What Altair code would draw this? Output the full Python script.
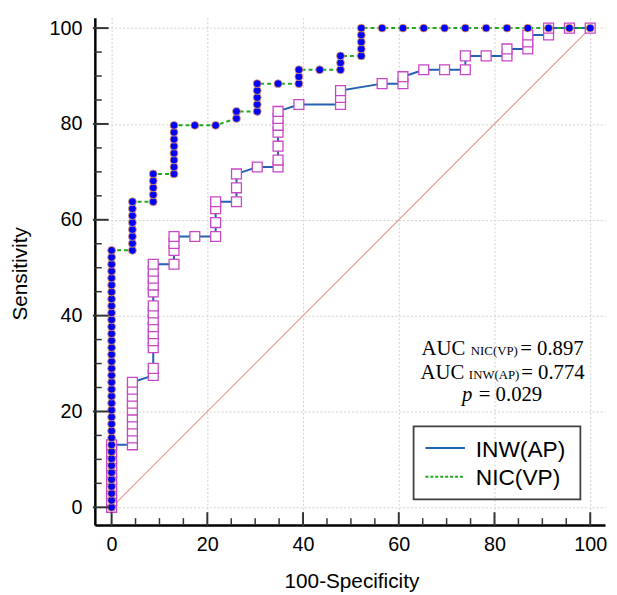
import altair as alt
import pandas as pd

# ---- values (100-Specificity %, Sensitivity %) ----
inw_fpr_cols = [0.0, 4.35, 8.7, 13.04, 17.39, 21.74, 26.09, 30.43, 34.78, 39.13, 47.83,
                56.52, 60.87, 65.22, 69.57, 73.91, 78.26, 82.61, 86.96, 91.3, 95.65, 100.0]
inw_sens_cols = [
    [0.0, 1.45, 2.9, 4.35, 5.8, 7.25, 8.7, 10.14, 11.59, 13.04],
    [13.04, 14.49, 15.94, 17.39, 18.84, 20.29, 21.74, 23.19, 24.64, 26.09],
    [27.54, 28.99, 33.33, 34.78, 36.23, 37.68, 39.13, 40.58, 42.03, 44.93, 46.38, 47.83, 49.28, 50.72],
    [50.72, 53.62, 55.07, 56.52],
    [56.52],
    [56.52, 59.42, 62.32, 63.77],
    [63.77, 66.67, 69.57],
    [71.01],
    [71.01, 72.46, 75.36, 78.26, 79.71, 81.16, 82.61],
    [84.06],
    [84.06, 85.51, 86.96],
    [88.41],
    [88.41, 89.86],
    [91.3],
    [91.3],
    [91.3, 94.2],
    [94.2],
    [94.2, 95.65],
    [95.65, 97.1, 98.55],
    [98.55, 100.0],
    [100.0],
    [100.0],
]

nic_fpr_cols = [0.0, 4.35, 8.7, 13.04, 17.39, 21.74, 26.09, 30.43, 34.78, 39.13, 43.48, 47.83,
                52.17, 56.52, 60.87, 65.22, 69.57, 73.91, 78.26, 82.61, 86.96, 91.3, 95.65, 100.0]
nic_sens_cols = [
    [0.0, 1.45, 2.9, 4.35, 5.8, 7.25, 8.7, 10.14, 11.59, 13.04, 14.49, 15.94, 17.39, 18.84,
     20.29, 21.74, 23.19, 24.64, 26.09, 27.54, 28.99, 30.43, 31.88, 33.33, 34.78, 36.23,
     37.68, 39.13, 40.58, 42.03, 43.48, 44.93, 46.38, 47.83, 49.28, 50.72, 52.17, 53.62],
    [53.62, 55.07, 56.52, 57.97, 59.42, 60.87, 62.32, 63.77],
    [63.77, 65.22, 66.67, 68.12, 69.57],
    [69.57, 71.01, 72.46, 73.91, 75.36, 76.81, 78.26, 79.71],
    [79.71],
    [79.71],
    [81.16, 82.61],
    [82.61, 84.06, 85.51, 86.96, 88.41],
    [88.41],
    [88.41, 89.86, 91.3],
    [91.3],
    [91.3, 92.75, 94.2],
    [94.2, 95.65, 97.1, 98.55, 100.0],
    [100.0], [100.0], [100.0], [100.0], [100.0], [100.0], [100.0], [100.0], [100.0], [100.0], [100.0],
]

diag_fpr = [0, 100]
diag_sens = [0, 100]

major_ticks = [0, 20, 40, 60, 80, 100]
minor_ticks = [5, 10, 15, 25, 30, 35, 45, 50, 55, 65, 70, 75, 85, 90, 95]

series_names = ["INW(AP)", "NIC(VP)"]
auc_values = ["0.897", "0.774"]
p_value = "0.029"


def flatten(fprs, cols):
    rows = []
    k = 0
    for fx, ys in zip(fprs, cols):
        for yv in ys:
            rows.append({"fpr": fx, "sens": yv, "order": k})
            k += 1
    return pd.DataFrame(rows)


inw_df = flatten(inw_fpr_cols, inw_sens_cols)
nic_df = flatten(nic_fpr_cols, nic_sens_cols)
diag_df = pd.DataFrame({"fpr": diag_fpr, "sens": diag_sens})
major_df = pd.DataFrame({"v": major_ticks})
minor_df = pd.DataFrame({"v": minor_ticks})
one = pd.DataFrame({"a": [0]})

W, H = 517, 514
SANS = "Liberation Sans, Arial, sans-serif"
SERIF = "Liberation Serif, Times New Roman, serif"

xscale = alt.Scale(domain=[-3.5, 103.1], nice=False, zero=False)
yscale = alt.Scale(domain=[-3.7, 102.15], nice=False, zero=False)

x_axis = alt.Axis(values=major_ticks, title="100-Specificity", ticks=False,
                  domainColor="#000000", domainWidth=2.5,
                  grid=True, gridColor="#d0d0d0", gridDash=[2, 2], gridWidth=1,
                  labelFontSize=20, labelPadding=10, labelFlush=False,
                  titleFontSize=21, titleX=260, titleY=63, titleBaseline="alphabetic",
                  titleAlign="center")
y_axis = alt.Axis(values=major_ticks, title="Sensitivity", ticks=False,
                  domainColor="#000000", domainWidth=2.5,
                  grid=True, gridColor="#d0d0d0", gridDash=[2, 2], gridWidth=1,
                  labelFontSize=20, labelPadding=13, labelFlush=False,
                  titleFontSize=21, titleAngle=270, titleX=-69, titleY=259,
                  titleBaseline="alphabetic", titleAlign="center")


def X(field="fpr"):
    return alt.X(f"{field}:Q", scale=xscale, axis=x_axis)


def Y(field="sens"):
    return alt.Y(f"{field}:Q", scale=yscale, axis=y_axis)


diag = alt.Chart(diag_df).mark_line(color="#e39a90", strokeWidth=1.2).encode(x=X(), y=Y())

inw_line = alt.Chart(inw_df).mark_line(color="#2262b0", strokeWidth=2).encode(
    x=X(), y=Y(), order="order:Q")
inw_pts = alt.Chart(inw_df).mark_point(shape="square", size=100, filled=True, fill="#ffffff",
                                        stroke="#c846c8", strokeWidth=1.3, opacity=1).encode(
    x=X(), y=Y())
nic_line = alt.Chart(nic_df).mark_line(color="#22a822", strokeWidth=2, strokeDash=[4, 3]).encode(
    x=X(), y=Y(), order="order:Q")
nic_pts = alt.Chart(nic_df).mark_point(shape="circle", size=64, filled=True, fill="#0000ff",
                                        stroke="#f5a54a", strokeWidth=0.8, opacity=1).encode(
    x=X(), y=Y())

# inward axis ticks
x_major = alt.Chart(major_df).mark_rule(color="#333333", strokeWidth=2).encode(
    x=X("v"), y=alt.value(H + 2), y2=alt.value(H - 13))
x_minor = alt.Chart(minor_df).mark_rule(color="#333333", strokeWidth=1.5).encode(
    x=X("v"), y=alt.value(H), y2=alt.value(H - 7))
y_major = alt.Chart(major_df).mark_rule(color="#333333", strokeWidth=2).encode(
    y=Y("v"), x=alt.value(-2), x2=alt.value(14))
y_minor = alt.Chart(minor_df).mark_rule(color="#333333", strokeWidth=1.5).encode(
    y=Y("v"), x=alt.value(0), x2=alt.value(7))


def txt(text, x, y, size, font=SERIF, style="normal"):
    return alt.Chart(one).mark_text(text=text, font=font, fontSize=size, fontStyle=style,
                                    align="left", baseline="alphabetic", color="#000000").encode(
        x=alt.value(x), y=alt.value(y))


annots = [
    txt("AUC", 331, 342, 21), txt("NIC(VP)", 381, 342, 13), txt("= " + auc_values[0], 431, 342, 21),
    txt("AUC", 330, 366, 21), txt("INW(AP)", 379, 366, 13), txt("= " + auc_values[1], 432, 366, 21),
    txt("p", 372, 388, 21, style="italic"), txt("= " + p_value, 389, 388, 21),
]

legend_box = alt.Chart(one).mark_rect(filled=False, stroke="#404040", strokeWidth=1.8).encode(
    x=alt.value(323), x2=alt.value(492), y=alt.value(414), y2=alt.value(488))
leg_inw = alt.Chart(one).mark_rule(color="#2262b0", strokeWidth=2).encode(
    x=alt.value(335), x2=alt.value(375), y=alt.value(436))
leg_nic = alt.Chart(one).mark_rule(color="#22a822", strokeWidth=2, strokeDash=[3, 2]).encode(
    x=alt.value(335), x2=alt.value(375), y=alt.value(465))
leg_t1 = txt(series_names[0], 386, 445, 23, font=SANS)
leg_t2 = txt(series_names[1], 386, 473, 23, font=SANS)

chart = alt.layer(
    diag, inw_line, inw_pts, nic_line, nic_pts,
    x_major, x_minor, y_major, y_minor,
    *annots, legend_box, leg_inw, leg_nic, leg_t1, leg_t2,
).properties(
    width=W, height=H,
    padding={"left": 88, "top": 6, "right": 4, "bottom": 70},
    autosize=alt.AutoSizeParams(type="none"),
).configure_view(strokeWidth=0).configure_axis(
    labelFont=SANS, titleFont=SANS, labelColor="#000000", titleColor="#000000",
    titleFontWeight="normal",
)

chart.save("out.html", embed_options={"renderer": "svg", "actions": False})
